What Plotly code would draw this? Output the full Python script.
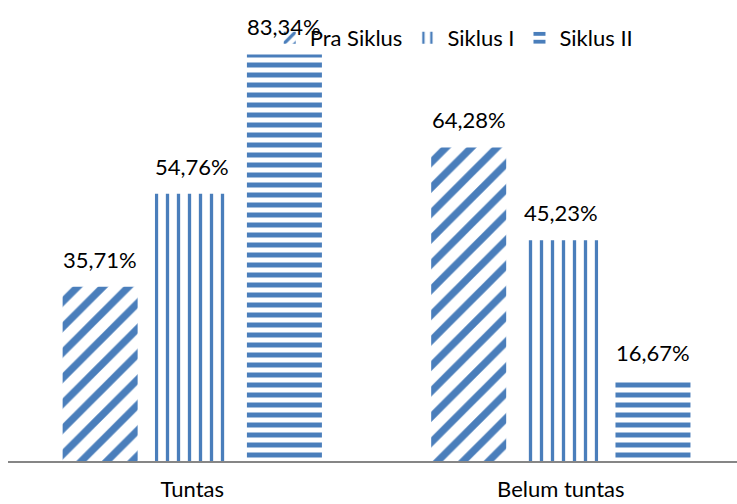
import plotly.graph_objects as go

categories = ["Tuntas", "Belum tuntas"]
series_names = ["Pra Siklus", "Siklus I", "Siklus II"]
pra_siklus = [35.71, 64.28]
siklus_1 = [54.76, 45.23]
siklus_2 = [83.34, 16.67]

all_series = [pra_siklus, siklus_1, siklus_2]
shapes = ["/", "|", "-"]
sizes = [18, 11, 10]
solidities = [0.4, 0.3, 0.5]
BLUE = "#4a7ebb"
FONT = "Lato"
BARGAP = 0.25
GROUPGAP = 0.186

x_pos = list(range(len(categories)))

fig = go.Figure()
for name, vals, shp, sz, sol in zip(series_names, all_series, shapes, sizes, solidities):
    fig.add_trace(go.Bar(
        name=name, x=x_pos, y=vals,
        marker=dict(color="white", line=dict(width=0),
                    pattern=dict(shape=shp, fgcolor=BLUE, bgcolor="white",
                                 size=sz, solidity=sol, fillmode="replace")),
        hoverinfo="skip",
    ))

slot = (1 - BARGAP) / len(all_series)
annotations = []
for j, vals in enumerate(all_series):
    for i, v in enumerate(vals):
        annotations.append(dict(
            x=i + (j - (len(all_series) - 1) / 2) * slot, y=v,
            xref="x", yref="y", text=f"{v:.2f}".replace(".", ",") + "%",
            showarrow=False, yanchor="bottom", yshift=12,
            font=dict(family=FONT, size=22, color="#000000"),
        ))

fig.update_layout(
    width=737, height=504,
    margin=dict(l=8, r=0, t=0, b=43, autoexpand=False),
    paper_bgcolor="white", plot_bgcolor="white",
    barmode="group", bargap=BARGAP, bargroupgap=GROUPGAP,
    showlegend=True,
    legend=dict(orientation="h", xref="paper", yref="paper",
                x=0.359, y=1 - 38 / 461, xanchor="left", yanchor="middle",
                font=dict(family=FONT, size=22, color="#000000"),
                bgcolor="rgba(0,0,0,0)", itemclick=False, itemdoubleclick=False),
    annotations=annotations,
    font=dict(family=FONT, size=22, color="#000000"),
)
fig.update_xaxes(range=[-0.5, 1.478], tickvals=x_pos, ticktext=categories,
                 showline=True, linecolor="#868686", linewidth=2,
                 showgrid=False, zeroline=False, automargin=False,
                 ticks="outside", ticklen=8, tickcolor="rgba(0,0,0,0)",
                 tickfont=dict(family=FONT, size=22, color="#000000"))
fig.update_yaxes(range=[0, 94.5], visible=False, showgrid=False, zeroline=False)

fig.write_html("out.html", config={"displayModeBar": False},
               post_script="document.body.style.margin='0';document.body.style.padding='0';")
